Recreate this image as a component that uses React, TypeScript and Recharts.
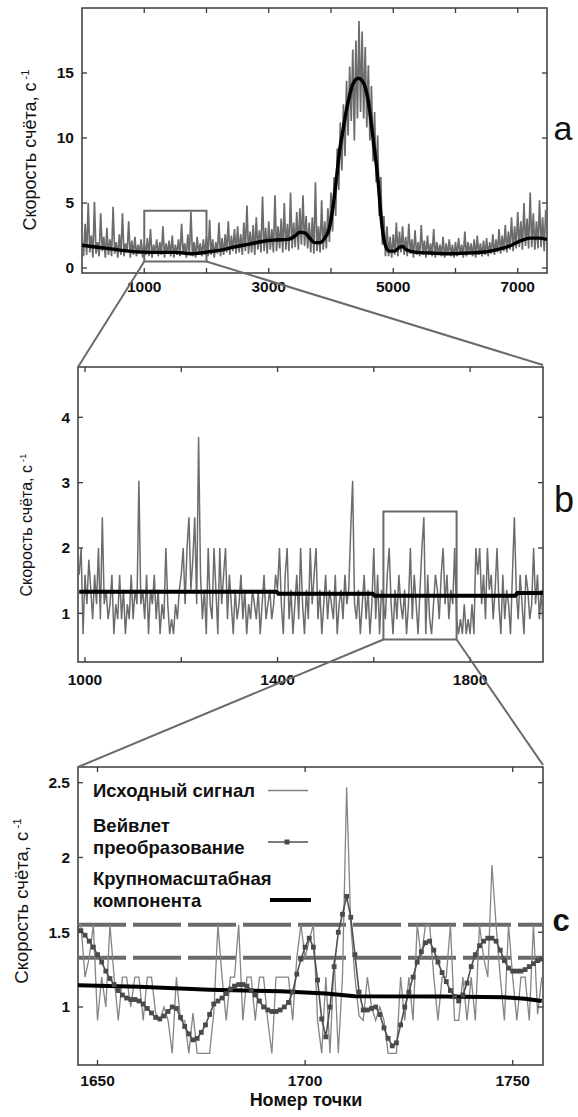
import React from 'react';
import { ComposedChart, Line, XAxis, YAxis, ReferenceArea, ReferenceLine } from 'recharts';

const FONT = '"Liberation Sans", Arial, Helvetica, sans-serif';
const SIGNAL = '#6c6c6c';
const FRAME = '#3a3a3a';
const BOX = '#6a6a6a';

// ---- panel a: whole record, sampled every 25 points ----
const aStart = 0;
const aStep = 25;
const aSignal = [
  2.2, 0.9, 3.4, 1.0, 5.0, 1.2, 2.5, 0.8, 5.1, 1.1, 2.0, 0.9, 4.2, 1.3, 2.4, 0.8, 3.1, 1.0, 2.2, 0.9,
  4.7, 1.1, 2.0, 0.8, 2.6, 1.0, 4.2, 0.9, 1.9, 1.2, 3.6, 0.8, 2.1, 1.0, 2.4, 0.9, 1.8, 1.1, 2.2, 0.8,
  1.9, 1.0, 2.3, 0.9, 3.0, 0.8, 1.8, 1.1, 2.2, 0.9, 2.0, 1.0, 3.2, 0.8, 1.9, 1.1, 2.1, 0.9, 2.5, 0.8,
  1.8, 1.0, 2.2, 0.9, 3.4, 1.1, 1.9, 0.8, 2.6, 1.0, 4.3, 0.9, 2.0, 0.8, 2.4, 1.1, 1.9, 0.9, 2.2, 1.0,
  2.4, 0.9, 3.7, 1.0, 2.2, 0.8, 2.0, 1.1, 3.5, 0.9, 2.3, 1.0, 2.6, 1.2, 3.6, 1.0, 2.5, 1.3, 3.0, 1.1,
  3.2, 1.2, 2.6, 1.0, 3.5, 1.3, 4.8, 1.1, 2.8, 1.2, 3.3, 1.0, 3.9, 1.4, 2.9, 1.2, 5.5, 1.3, 3.1, 1.1,
  3.6, 1.4, 3.0, 1.2, 5.6, 1.3, 3.2, 1.5, 3.8, 1.2, 5.0, 1.4, 3.4, 1.3, 5.8, 1.5, 3.5, 1.6, 4.3, 1.4,
  4.6, 1.8, 5.6, 1.7, 4.0, 1.5, 3.5, 1.2, 3.9, 1.1, 6.6, 1.3, 3.2, 1.2, 5.2, 1.4, 3.6, 1.5, 4.6, 2.0,
  5.8, 2.8, 7.0, 4.0, 9.2, 6.0, 11.2, 7.5, 12.6, 8.6, 14.4, 10.2, 15.5, 11.3, 16.8, 9.8, 17.5, 11.5, 19.0, 12.0,
  18.2, 11.5, 17.0, 10.8, 15.6, 9.8, 14.0, 8.2, 12.0, 6.6, 10.2, 4.0, 7.0, 1.8, 4.0, 0.9, 3.2, 0.9, 2.4, 0.8,
  2.6, 1.0, 3.5, 0.9, 2.8, 1.2, 3.2, 1.0, 2.4, 0.9, 3.4, 1.1, 2.2, 0.8, 2.9, 1.0, 2.0, 0.9, 3.3, 1.0,
  2.1, 0.8, 2.5, 1.0, 1.9, 0.9, 3.0, 0.8, 2.0, 1.1, 1.8, 0.9, 2.4, 0.8, 1.9, 1.0, 2.2, 0.9, 1.8, 0.8,
  2.0, 0.9, 2.3, 1.0, 1.8, 0.8, 2.8, 0.9, 2.0, 1.1, 1.9, 0.9, 2.2, 0.8, 2.5, 1.0, 1.9, 0.9, 2.1, 1.0,
  2.3, 0.9, 2.0, 1.1, 2.6, 1.0, 2.2, 1.2, 3.0, 1.1, 2.5, 1.3, 3.3, 1.2, 2.8, 1.4, 3.9, 1.3, 3.2, 1.5,
  4.3, 1.6, 3.6, 1.4, 5.0, 1.7, 3.8, 1.5, 5.8, 1.6, 4.2, 1.4, 3.6, 1.5, 5.2, 1.6, 3.9, 1.3, 4.5,
];
const aTrendX = [
  0, 250, 500, 750, 1000, 1250, 1500, 1750, 1900, 2000, 2200, 2430, 2700, 2970, 3100, 3310, 3420, 3500, 3580, 3650,
  3740, 3820, 3900, 3970, 4035, 4090, 4140, 4200, 4250, 4300, 4355, 4440, 4500, 4550, 4600, 4640, 4680, 4720, 4760, 4790,
  4830, 4870, 4940, 5020, 5100, 5150, 5210, 5370, 5600, 5900, 6200, 6500, 6700, 6900, 7050, 7200, 7350, 7470,
];
const aTrendY = [
  1.75, 1.6, 1.45, 1.3, 1.22, 1.2, 1.2, 1.1, 1.15, 1.22, 1.35, 1.6, 1.85, 2.1, 2.15, 2.2, 2.45, 2.75, 2.7, 2.35,
  1.95, 1.95, 2.3, 3.0, 4.8, 7.0, 9.1, 10.8, 12.2, 13.3, 14.2, 14.6, 14.4, 13.9, 12.8, 11.4, 9.8, 8.3, 6.5, 4.7,
  2.8, 1.8, 1.3, 1.3, 1.6, 1.65, 1.4, 1.2, 1.15, 1.1, 1.15, 1.25, 1.45, 1.75, 2.1, 2.3, 2.3, 2.2,
];
const aXTicks = [1000, 2000, 3000, 4000, 5000, 6000, 7000];
const aXLabels = [1000, 3000, 5000, 7000];
const aYTicks = [0, 5, 10, 15];

// ---- panel b: points 988..1952, every 4th point ----
const bStart = 988;
const bStep = 4;
const bSignal = [
  1.59, 2.0, 0.68, 1.59, 1.14, 1.82, 1.36, 0.91, 1.59, 1.14, 2.0, 0.91, 2.47, 1.14, 1.36, 0.91, 1.14, 1.59, 0.68, 1.14, 0.91, 1.59, 0.91, 1.36, 0.68,
  1.14, 0.91, 1.59, 0.91, 1.36, 1.14, 3.03, 1.14, 1.36, 0.91, 1.59, 0.68, 1.36, 1.14, 1.59, 0.91, 1.36, 0.68, 1.14, 0.91, 2.0, 1.14, 0.68, 0.91, 0.68,
  1.14, 0.91, 1.36, 1.59, 2.0, 1.14, 2.0, 2.47, 1.36, 1.82, 2.47, 1.14, 3.7, 1.59, 0.91, 1.36, 0.68, 2.0, 1.14, 0.91, 2.0, 1.36, 0.68, 2.0, 1.14,
  1.59, 2.0, 0.91, 1.59, 1.14, 0.68, 1.36, 0.91, 1.14, 1.59, 0.91, 1.36, 0.68, 1.14, 0.91, 1.36, 1.14, 0.91, 1.36, 0.68, 1.14, 1.59, 0.91, 1.14, 1.36,
  0.91, 1.14, 1.59, 1.36, 2.0, 1.14, 0.68, 1.59, 2.0, 0.91, 1.36, 0.68, 1.14, 1.59, 0.91, 2.0, 1.14, 0.68, 1.36, 0.91, 2.0, 1.14, 1.59, 2.0, 0.91,
  1.36, 0.68, 1.14, 1.59, 0.91, 1.36, 1.14, 0.91, 1.59, 0.68, 1.14, 1.36, 0.91, 1.59, 1.14, 1.36, 2.27, 3.03, 1.14, 0.91, 1.36, 0.68, 1.14, 1.59, 0.91,
  1.36, 0.68, 1.14, 2.0, 0.91, 1.59, 0.68, 1.36, 1.14, 0.91, 1.59, 2.0, 1.14, 0.68, 1.36, 0.91, 1.59, 1.14, 0.91, 1.36, 0.68, 1.14, 2.0, 0.91, 1.59,
  1.14, 0.68, 1.36, 2.0, 2.47, 0.68, 1.59, 0.91, 0.68, 1.14, 1.59, 1.36, 0.91, 1.59, 2.0, 1.14, 1.59, 0.91, 1.36, 1.14, 2.0, 0.91, 0.68, 0.91, 0.68,
  1.14, 0.68, 0.91, 0.68, 1.14, 0.68, 2.0, 1.59, 2.0, 1.14, 1.59, 0.91, 2.0, 1.36, 1.59, 0.91, 1.36, 2.0, 1.14, 0.68, 1.59, 0.91, 1.36, 1.14, 0.68,
  1.59, 2.47, 1.36, 0.91, 1.59, 1.14, 0.68, 1.59, 1.36, 0.91, 1.14, 2.0, 1.14, 1.59, 0.91, 1.36, 0.68,
];
const bTrendX = [988, 1398, 1402, 1598, 1602, 1894, 1898, 1952];
const bTrendY = [1.33, 1.33, 1.3, 1.3, 1.27, 1.27, 1.31, 1.31];
const bXTicks = [1000, 1200, 1400, 1600, 1800];
const bXLabels = [1000, 1400, 1800];
const bYTicks = [1, 2, 3, 4];

// ---- panel c: points 1645..1757 ----
const cStart = 1645;
const cRaw = [
  1.55, 1.55, 1.2, 1.33, 1.55, 0.91, 1.2, 1.0, 1.55, 1.2,
  0.91, 1.2, 1.2, 1.0, 1.2, 1.2, 0.91, 1.2, 1.2, 0.96,
  0.91, 1.0, 0.91, 0.69, 1.2, 0.91, 0.91, 0.69, 0.96, 0.69,
  0.69, 0.69, 0.69, 0.96, 1.55, 1.2, 0.91, 1.2, 1.2, 1.55,
  0.91, 1.2, 1.2, 0.91, 1.2, 1.2, 0.91, 0.69, 1.2, 1.2,
  1.2, 1.2, 0.91, 1.33, 1.55, 1.33, 1.45, 1.55, 0.91, 0.69,
  1.2, 0.69, 1.33, 0.69, 1.2, 2.47, 1.55, 1.2, 0.94, 0.91,
  1.2, 1.0, 0.91, 1.0, 0.91, 0.69, 0.69, 0.69, 1.2, 0.91,
  1.2, 0.91, 1.55, 1.33, 1.55, 1.55, 1.2, 0.91, 1.2, 1.2,
  1.55, 0.91, 0.91, 1.2, 0.91, 1.2, 0.91, 1.55, 1.33, 1.2,
  1.95, 1.55, 1.2, 0.91, 1.55, 1.2, 0.91, 1.2, 1.2, 0.91,
  1.55, 0.95, 1.2,
];
const cWavelet = [
  1.53, 1.51, 1.48, 1.44, 1.4, 1.35, 1.3, 1.24, 1.19, 1.15,
  1.11, 1.08, 1.06, 1.05, 1.05, 1.04, 1.02, 0.99, 0.96, 0.93,
  0.92, 0.94, 0.97, 1.0, 0.99, 0.93, 0.87, 0.82, 0.78, 0.79,
  0.83, 0.88, 0.95, 1.02, 1.04, 1.06, 1.09, 1.12, 1.14, 1.15,
  1.15, 1.14, 1.11, 1.08, 1.04, 1.0, 0.98, 0.97, 0.97, 0.98,
  1.0, 1.03, 1.1, 1.22, 1.32, 1.4, 1.46, 1.4, 1.18, 0.92,
  0.8, 1.0, 1.27, 1.5, 1.62, 1.74, 1.6, 1.35, 1.1, 0.98,
  0.98, 0.99, 1.0, 0.95, 0.86, 0.79, 0.74, 0.76, 0.88, 1.0,
  1.1, 1.2, 1.3, 1.37, 1.43, 1.44, 1.38, 1.3, 1.23, 1.17,
  1.11, 1.07, 1.04, 1.08, 1.16, 1.27, 1.35, 1.41, 1.44, 1.46,
  1.46, 1.44, 1.38, 1.31, 1.26, 1.24, 1.24, 1.24, 1.25, 1.27,
  1.29, 1.31, 1.32,
];
const cTrendX = [1645, 1660, 1677, 1694, 1705, 1712, 1733, 1748, 1753, 1757];
const cTrendY = [1.145, 1.135, 1.115, 1.105, 1.09, 1.072, 1.07, 1.065, 1.055, 1.04];
const cThresholds = [1.55, 1.33];
const cXTicks = [1650, 1700, 1750];
const cYTicks = [1, 1.5, 2, 2.5];

// zoomed windows
const aBox = { x1: 1000, x2: 2000, y1: 0.5, y2: 4.4 };
const bBox = { x1: 1620, x2: 1772, y1: 0.6, y2: 2.56 };

// page geometry of each panel (plot area in page pixels)
const A = { top: 0, h: 310, left: 82, right: 547, pTop: 8, pBottom: 273, x: [0, 7470], y: [-0.385, 20], lab: 19 };
const B = { top: 340, h: 360, left: 78, right: 543, pTop: 367, pBottom: 662, x: [985.5, 1951.5], y: [0.255, 4.77], lab: 23 };
const C = { top: 740, h: 377, left: 78, right: 543, pTop: 767, pBottom: 1065, x: [1645.3, 1757.3], y: [0.612, 2.605], lab: 20.5 };

const aData = aSignal.map((y, i) => ({ x: aStart + i * aStep, y }));
const aTrend = aTrendX.map((x, i) => ({ x, y: aTrendY[i] }));
const bData = bSignal.map((y, i) => ({ x: bStart + i * bStep, y }));
const bTrend = bTrendX.map((x, i) => ({ x, y: bTrendY[i] }));
const cRawData = cRaw.map((y, i) => ({ x: cStart + i, y }));
const cWaveData = cWavelet.map((y, i) => ({ x: cStart + i, y }));
const cTrend = cTrendX.map((x, i) => ({ x, y: cTrendY[i] }));

type Geo = typeof A;

const sx = (g: Geo, v: number) => g.left + ((v - g.x[0]) / (g.x[1] - g.x[0])) * (g.right - g.left);
const sy = (g: Geo, v: number) => g.pBottom - ((v - g.y[0]) / (g.y[1] - g.y[0])) * (g.pBottom - g.pTop);

const tickText = { fontFamily: FONT, fontWeight: 700, fontSize: 15.5, fill: '#111' };

function XTick(props: any) {
  const { x, payload, geo, labels } = props;
  const g: Geo = geo;
  const bottom = g.pBottom - g.top;
  const top = g.pTop - g.top;
  const v = payload.value;
  return (
    <g>
      <line x1={x} y1={bottom} x2={x} y2={bottom - 5} stroke={FRAME} strokeWidth={1.3} />
      <line x1={x} y1={top} x2={x} y2={top + 5} stroke={FRAME} strokeWidth={1.3} />
      {(!labels || labels.includes(v)) && (
        <text x={x} y={bottom + g.lab} textAnchor="middle" {...tickText}>{v}</text>
      )}
    </g>
  );
}

function YTick(props: any) {
  const { y, payload, geo } = props;
  const g: Geo = geo;
  return (
    <g>
      <line x1={g.left} y1={y} x2={g.left + 5} y2={y} stroke={FRAME} strokeWidth={1.3} />
      <line x1={g.right} y1={y} x2={g.right - 5} y2={y} stroke={FRAME} strokeWidth={1.3} />
      <text x={g.left - 8} y={y + 5.5} textAnchor="end" {...tickText}>{payload.value}</text>
    </g>
  );
}

const SquareDot = (p: any) => (
  <rect key={`d-${p.index}`} x={p.cx - 2.4} y={p.cy - 2.4} width={4.8} height={4.8} fill="#4a4a4a" />
);

function YTitle({ cx, cy, size }: { cx: number; cy: number; size: number }) {
  return (
    <text transform={`translate(${cx},${cy}) rotate(-90)`} textAnchor="middle" fontFamily={FONT} fontSize={size} fill="#111">
      Скорость счёта, с
      <tspan dy={-size * 0.4} fontSize={size * 0.62}> -1</tspan>
    </text>
  );
}

export default function App() {
  return (
    <div style={{ position: 'absolute', left: 0, top: 0, width: 578, height: 1117, background: '#fff' }}>
      {/* panel a */}
      <div style={{ position: 'absolute', left: 0, top: A.top }}>
        <ComposedChart width={578} height={A.h} margin={{ top: A.pTop - A.top, right: 578 - A.right, bottom: 0, left: 0 }}>
          <XAxis type="number" dataKey="x" domain={A.x} allowDataOverflow ticks={aXTicks} interval={0}
            height={A.top + A.h - A.pBottom} axisLine={false} tickLine={false} tickSize={0} tickMargin={0}
            tick={(p: any) => <XTick {...p} geo={A} labels={aXLabels} />} />
          <YAxis type="number" domain={A.y} allowDataOverflow ticks={aYTicks} interval={0} width={A.left}
            axisLine={false} tickLine={false} tickSize={0} tickMargin={0}
            tick={(p: any) => <YTick {...p} geo={A} />} />
          <ReferenceArea x1={A.x[0]} x2={A.x[1]} y1={A.y[0]} y2={A.y[1]} fill="none" fillOpacity={0} stroke={FRAME} strokeWidth={1.5} />
          <Line data={aData} dataKey="y" type="linear" stroke={SIGNAL} strokeWidth={1.7} dot={false} isAnimationActive={false} />
          <Line data={aTrend} dataKey="y" type="monotone" stroke="#000" strokeWidth={3.4} dot={false} isAnimationActive={false} />
          <ReferenceArea x1={aBox.x1} x2={aBox.x2} y1={aBox.y1} y2={aBox.y2} fill="none" fillOpacity={0} stroke={BOX} strokeWidth={2} />
        </ComposedChart>
      </div>

      {/* panel b */}
      <div style={{ position: 'absolute', left: 0, top: B.top }}>
        <ComposedChart width={578} height={B.h} margin={{ top: B.pTop - B.top, right: 578 - B.right, bottom: 0, left: 0 }}>
          <XAxis type="number" dataKey="x" domain={B.x} allowDataOverflow ticks={bXTicks} interval={0}
            height={B.top + B.h - B.pBottom} axisLine={false} tickLine={false} tickSize={0} tickMargin={0}
            tick={(p: any) => <XTick {...p} geo={B} labels={bXLabels} />} />
          <YAxis type="number" domain={B.y} allowDataOverflow ticks={bYTicks} interval={0} width={B.left}
            axisLine={false} tickLine={false} tickSize={0} tickMargin={0}
            tick={(p: any) => <YTick {...p} geo={B} />} />
          <ReferenceArea x1={B.x[0]} x2={B.x[1]} y1={B.y[0]} y2={B.y[1]} fill="none" fillOpacity={0} stroke={FRAME} strokeWidth={1.5} />
          <Line data={bData} dataKey="y" type="linear" stroke={SIGNAL} strokeWidth={1.5} dot={false} isAnimationActive={false} />
          <Line data={bTrend} dataKey="y" type="linear" stroke="#000" strokeWidth={4} dot={false} isAnimationActive={false} />
          <ReferenceArea x1={bBox.x1} x2={bBox.x2} y1={bBox.y1} y2={bBox.y2} fill="none" fillOpacity={0} stroke={BOX} strokeWidth={2} />
        </ComposedChart>
      </div>

      {/* panel c */}
      <div style={{ position: 'absolute', left: 0, top: C.top }}>
        <ComposedChart width={578} height={C.h} margin={{ top: C.pTop - C.top, right: 578 - C.right, bottom: 0, left: 0 }}>
          <XAxis type="number" dataKey="x" domain={C.x} allowDataOverflow ticks={cXTicks} interval={0}
            height={C.top + C.h - C.pBottom} axisLine={false} tickLine={false} tickSize={0} tickMargin={0}
            tick={(p: any) => <XTick {...p} geo={C} />} />
          <YAxis type="number" domain={C.y} allowDataOverflow ticks={cYTicks} interval={0} width={C.left}
            axisLine={false} tickLine={false} tickSize={0} tickMargin={0}
            tick={(p: any) => <YTick {...p} geo={C} />} />
          <ReferenceArea x1={C.x[0]} x2={C.x[1]} y1={C.y[0]} y2={C.y[1]} fill="none" fillOpacity={0} stroke={FRAME} strokeWidth={1.5} />
          {cThresholds.map((t) => (
            <ReferenceLine key={t} y={t} stroke="#6a6a6a" strokeWidth={4} strokeDasharray="48 7" />
          ))}
          <Line data={cRawData} dataKey="y" type="linear" stroke="#858585" strokeWidth={1.3} dot={false} isAnimationActive={false} />
          <Line data={cWaveData} dataKey="y" type="linear" stroke="#505050" strokeWidth={1.6} dot={SquareDot} isAnimationActive={false} />
          <Line data={cTrend} dataKey="y" type="linear" stroke="#000" strokeWidth={4} dot={false} isAnimationActive={false} />
        </ComposedChart>
      </div>

      {/* annotations: connectors, titles, panel letters, legend */}
      <svg width={578} height={1117} style={{ position: 'absolute', left: 0, top: 0, pointerEvents: 'none' }}>
        <g stroke={BOX} strokeWidth={2}>
          <line x1={sx(A, aBox.x1)} y1={sy(A, aBox.y1)} x2={B.left} y2={B.pTop} />
          <line x1={sx(A, aBox.x2)} y1={sy(A, aBox.y1)} x2={B.right} y2={B.pTop - 2} />
          <line x1={sx(B, bBox.x1)} y1={sy(B, bBox.y1)} x2={C.left} y2={C.pTop} />
          <line x1={sx(B, bBox.x2)} y1={sy(B, bBox.y1)} x2={C.right} y2={C.pTop - 2} />
        </g>

        <YTitle cx={36} cy={150} size={18} />
        <YTitle cx={32} cy={525} size={16} />
        <YTitle cx={28} cy={901} size={18.5} />

        <text x={563} y={140} textAnchor="middle" fontFamily={FONT} fontSize={34} fill="#111">a</text>
        <text x={564} y={512} textAnchor="middle" fontFamily={FONT} fontSize={36} fill="#111">b</text>
        <text x={561} y={931} textAnchor="middle" fontFamily={FONT} fontWeight={700} fontSize={31} fill="#111">c</text>

        <text x={306} y={1106} textAnchor="middle" fontFamily={FONT} fontWeight={700} fontSize={18} fill="#111">Номер точки</text>

        <g fontFamily={FONT} fontWeight={700} fontSize={18.5} fill="#111">
          <text x={93} y={797}>Исходный сигнал</text>
          <text x={93} y={832}>Вейвлет</text>
          <text x={93} y={854}>преобразование</text>
          <text x={93} y={885}>Крупномасштабная</text>
          <text x={93} y={907}>компонента</text>
        </g>
        <line x1={268} y1={790.5} x2={308} y2={790.5} stroke="#858585" strokeWidth={1.3} />
        <line x1={268} y1={842} x2={308} y2={842} stroke="#505050" strokeWidth={1.6} />
        <rect x={284.5} y={839.5} width={5} height={5} fill="#4a4a4a" />
        <line x1={270} y1={900} x2={311} y2={900} stroke="#000" strokeWidth={4} />
      </svg>
    </div>
  );
}
